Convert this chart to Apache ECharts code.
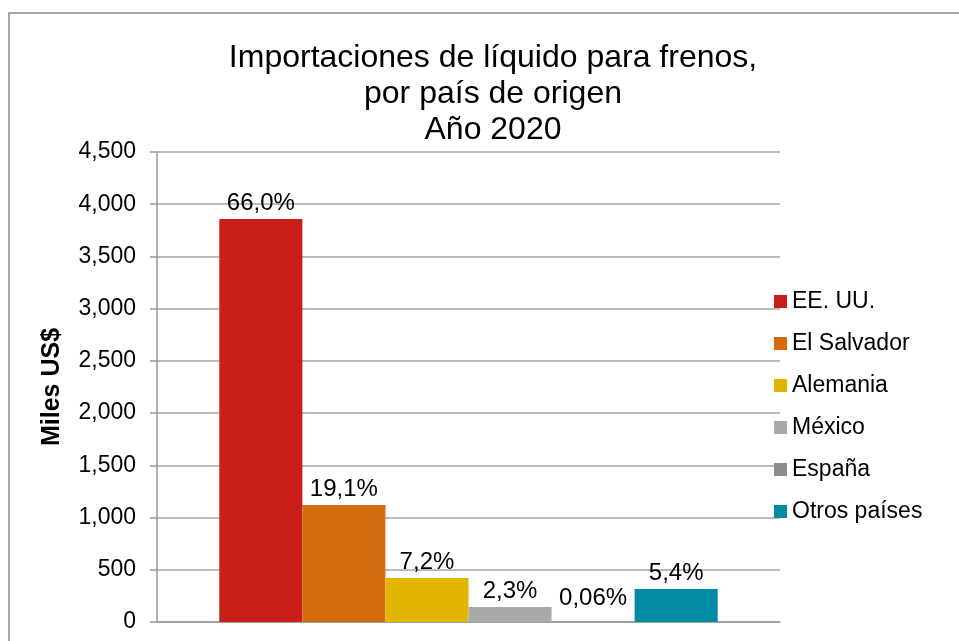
<!DOCTYPE html>
<html>
<head>
<meta charset="utf-8">
<script src="https://cdn.jsdelivr.net/npm/echarts@6/dist/echarts.min.js"></script>
<style>
  html, body { margin: 0; padding: 0; background: #fff; }
  #chart { width: 959px; height: 641px; }
</style>
</head>
<body>
<div id="chart"></div>
<script>
// data
var countries = ['EE. UU.', 'El Salvador', 'Alemania', 'México', 'España', 'Otros países'];
var values = [3858, 1120, 421, 144, 3.5, 316];
var shareLabels = ['66,0%', '19,1%', '7,2%', '2,3%', '0,06%', '5,4%'];
var colors = ['#C81E17', '#D46C0E', '#E2B500', '#A9A9A9', '#8C8C8C', '#008BA5'];
var yTicks = { min: 0, max: 4500, interval: 500 };

var font = 'Liberation Sans, Arial, sans-serif';

var series = countries.map(function (name, i) {
  return {
    name: name,
    type: 'bar',
    data: [values[i]],
    barGap: '0%',
    barCategoryGap: '20%',
    itemStyle: { color: colors[i] },
    label: {
      show: true,
      position: 'top',
      // the tiny bar's label sits a bit higher in the original
      distance: values[i] < 50 ? 11 : 4,
      formatter: function () { return shareLabels[i]; },
      color: '#000',
      fontSize: 24,
      fontFamily: font
    }
  };
});

var myChart = echarts.init(document.getElementById('chart'));
myChart.setOption({
  animation: false,
  color: colors,
  title: {
    text: 'Importaciones de líquido para frenos,\npor país de origen\nAño 2020',
    left: 488,
    top: 35,
    textAlign: 'center',
    textStyle: {
      fontFamily: font,
      fontSize: 32,
      fontWeight: 'normal',
      color: '#000',
      lineHeight: 36
    }
  },
  legend: {
    orient: 'vertical',
    left: 769,
    top: 285,
    itemWidth: 13,
    itemHeight: 13,
    itemGap: 19,
    icon: 'rect',
    data: countries,
    textStyle: { fontFamily: font, fontSize: 23, color: '#000' }
  },
  grid: { left: 157, right: 179, top: 152, bottom: 19 },
  xAxis: {
    type: 'category',
    data: [''],
    axisLine: { lineStyle: { color: '#9a9a9a', width: 1.5 } },
    axisTick: { show: false },
    axisLabel: { show: false }
  },
  yAxis: {
    type: 'value',
    min: yTicks.min,
    max: yTicks.max,
    interval: yTicks.interval,
    name: 'Miles US$',
    nameLocation: 'middle',
    nameGap: 92,
    nameTextStyle: { fontFamily: font, fontSize: 25, fontWeight: 'bold', color: '#000' },
    axisLine: { show: true, lineStyle: { color: '#9a9a9a', width: 1.5 } },
    axisTick: { show: true, length: 7, lineStyle: { color: '#9a9a9a', width: 1.5 } },
    axisLabel: {
      margin: 21,
      color: '#000',
      fontSize: 23,
      fontFamily: font,
      formatter: function (v) { return v.toLocaleString('en-US'); }
    },
    splitLine: { lineStyle: { color: '#a6a6a6', width: 1.5 } }
  },
  graphic: [{
    type: 'rect',
    shape: { x: 9, y: 13, width: 960, height: 640 },
    style: { fill: 'none', stroke: '#8a8a8a', lineWidth: 1.5 },
    silent: true
  }],
  series: series
});
</script>
</body>
</html>
